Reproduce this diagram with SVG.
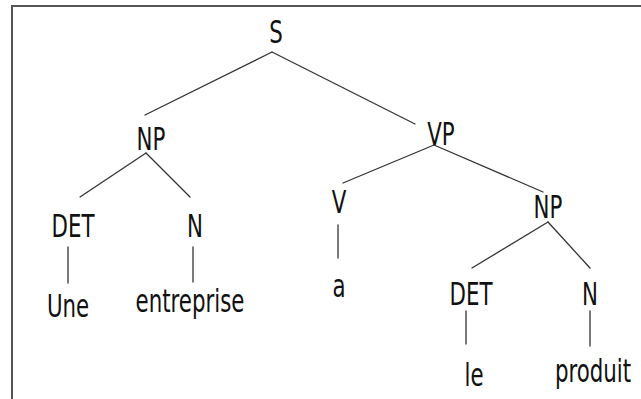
<svg xmlns="http://www.w3.org/2000/svg" width="641" height="399" viewBox="0 0 641 399">
<style>
.t{font-family:"DejaVu Sans Condensed","DejaVu Sans",sans-serif;font-stretch:condensed;font-size:30px;fill:#111;text-anchor:middle}
.e line{stroke:#333;stroke-width:1.3;stroke-linecap:round}
</style>
<rect x="0" y="0" width="641" height="399" fill="#fff"/>
<rect x="12" y="6" width="660" height="420" fill="none" stroke="#555" stroke-width="2"/>
<g class="e" id="connectors">
<line x1="272" y1="52" x2="145" y2="115"/>
<line x1="272" y1="52" x2="415" y2="124"/>
<line x1="146" y1="153" x2="80" y2="197"/>
<line x1="146" y1="153" x2="190" y2="197"/>
<line x1="68" y1="247" x2="68" y2="283"/>
<line x1="193" y1="247" x2="193" y2="282"/>
<line x1="434" y1="145" x2="343" y2="183"/>
<line x1="434" y1="145" x2="543" y2="192"/>
<line x1="338" y1="225" x2="338" y2="258"/>
<line x1="548" y1="222" x2="472" y2="268"/>
<line x1="548" y1="222" x2="590" y2="268"/>
<line x1="466" y1="311" x2="466" y2="344"/>
<line x1="590" y1="311" x2="590" y2="346"/>
</g>
<g id="n_S"><text class="t" transform="translate(276,43) scale(0.79,1.05)">S</text></g>
<g id="n_NP1"><text class="t" transform="translate(151,150) scale(0.79,1.05)">NP</text></g>
<g id="n_VP"><text class="t" transform="translate(441,145) scale(0.79,1.05)">VP</text></g>
<g id="n_DET1"><text class="t" transform="translate(73,237) scale(0.79,1.05)">DET</text></g>
<g id="n_N1"><text class="t" transform="translate(195,237) scale(0.79,1.05)">N</text></g>
<g id="n_V"><text class="t" transform="translate(339,213) scale(0.79,1.05)">V</text></g>
<g id="n_NP2"><text class="t" transform="translate(548,218) scale(0.79,1.05)">NP</text></g>
<g id="n_Une"><text class="t" transform="translate(68,317) scale(0.79,1.05)">Une</text></g>
<g id="n_entreprise"><text class="t" transform="translate(190,312) scale(0.79,1.05)">entreprise</text></g>
<g id="n_a"><text class="t" transform="translate(339,297) scale(0.79,1.05)">a</text></g>
<g id="n_DET2"><text class="t" transform="translate(471,305) scale(0.79,1.05)">DET</text></g>
<g id="n_N2"><text class="t" transform="translate(590,305) scale(0.79,1.05)">N</text></g>
<g id="n_le"><text class="t" transform="translate(474,386) scale(0.79,1.05)">le</text></g>
<g id="n_produit"><text class="t" transform="translate(593,382) scale(0.79,1.05)">produit</text></g>
</svg>
